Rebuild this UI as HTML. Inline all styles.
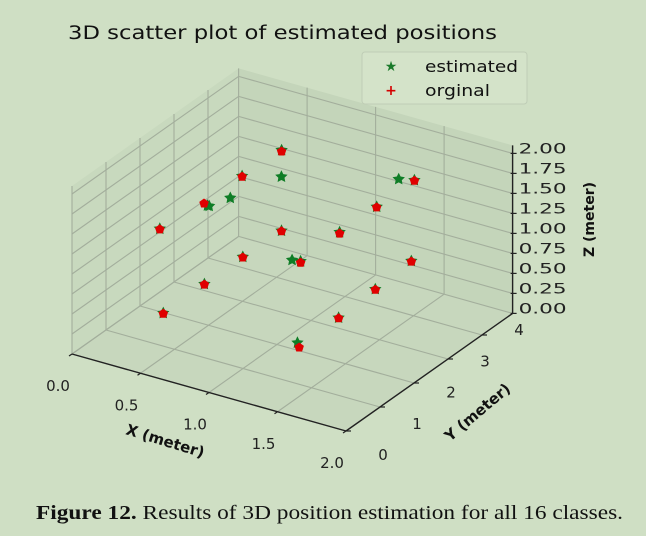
<!DOCTYPE html>
<html><head><meta charset="utf-8"><style>
body{margin:0;background:#cfdfc4;}
svg{display:block;font-family:"DejaVu Sans","Liberation Sans",sans-serif;}
</style></head><body>
<svg id="chart" width="646" height="536" viewBox="0 0 646 536">
<rect width="646" height="536" fill="#cfdfc4"/>
<text x="68" y="39" font-size="18.5" fill="#111" textLength="429" lengthAdjust="spacingAndGlyphs">3D scatter plot of estimated positions</text>
<g id="panes"></g><g id="grid"></g><g id="axes"></g><g id="marks"></g>
<g>
<rect x="362" y="52" width="165" height="52" rx="3" fill="#d4e3c9" stroke="#bfcdb6"/>
<text x="391" y="71" font-size="14" fill="#1a7a2a" text-anchor="middle">★</text>
<text x="425" y="72" font-size="16" fill="#111" textLength="93" lengthAdjust="spacingAndGlyphs">estimated</text>
<text x="391" y="95" font-size="14" fill="#d40000" text-anchor="middle" font-weight="bold">+</text>
<text x="425" y="96" font-size="16" fill="#111" textLength="65" lengthAdjust="spacingAndGlyphs">orginal</text>
</g>
<text x="0" y="0" font-size="15" font-weight="bold" fill="#111" transform="translate(125,434) rotate(17)">X (meter)</text>
<text x="0" y="0" font-size="15" font-weight="bold" fill="#111" transform="translate(450,442) rotate(-40)">Y (meter)</text>
<text x="0" y="0" font-size="14" font-weight="bold" fill="#111" transform="translate(594,257) rotate(-90)">Z (meter)</text>
<text x="36" y="519" font-family="Liberation Serif,serif" font-size="20" fill="#111" textLength="587" lengthAdjust="spacingAndGlyphs"><tspan font-weight="bold">Figure 12.</tspan> Results of 3D position estimation for all 16 classes.</text>
</svg>
<script>
const xTicks=[0,0.5,1.0,1.5,2.0];
const yTicks=[0,1,2,3,4];
const zTicks=[0,0.25,0.5,0.75,1.0,1.25,1.5,1.75,2.0];
const origX=[0.48,0.46,1.39,0.46,1.39,0.42,1.07,1.39,0.47,0.81,1.38,0.47,1.40,0.47,1.42,1.43];
const origY=[4.23,3.15,4.47,2.03,3.36,0.89,1.85,2.27,3.13,3.46,4.42,2.00,3.28,0.79,2.12,0.92];
const origZ=[1.5,1.5,1.5,1.5,1.5,1.5,1.5,1.5,0.5,0.5,0.5,0.5,0.5,0.5,0.5,0.5];
const estX=[0.48,0.46,1.39,0.48,1.39,0.42,1.07,1.39,0.47,0.81,1.38,0.47,1.40,0.47,1.42,1.39,0.67,1.30,0.56,0.75,0.48];
const estY=[4.23,3.15,4.47,2.05,3.36,0.89,1.85,2.27,3.13,3.46,4.42,2.00,3.28,0.79,2.12,1.03,3.46,4.37,2.40,3.45,2.10];
const estZ=[1.51,1.5,1.5,1.47,1.5,1.5,1.5,1.51,0.5,0.51,0.5,0.5,0.5,0.5,0.5,0.5,1.5,1.5,1.5,0.5,1.45];
const XMAX=2,YMAX=4.9,ZMAX=2.1;
const NS="http://www.w3.org/2000/svg";
function P(x,y,z){return [72+137*x+34*y, 354+38.5*x-24*y-80*z];}
function mk(tag,attrs,parent){const e=document.createElementNS(NS,tag);for(const k in attrs)e.setAttribute(k,attrs[k]);document.getElementById(parent).appendChild(e);return e;}
function poly(pts){return pts.map(p=>p.join(',')).join(' ');}
function line(a,b,parent,stroke,w){return mk('line',{x1:a[0],y1:a[1],x2:b[0],y2:b[1],stroke:stroke,'stroke-width':w},parent);}
let e;
e=mk('polygon',{points:poly([P(0,0,0),P(XMAX,0,0),P(XMAX,YMAX,0),P(0,YMAX,0)]),fill:'rgba(60,80,50,0.05)'},'panes');


e=mk('polygon',{points:poly([P(0,0,0),P(0,YMAX,0),P(0,YMAX,ZMAX),P(0,0,ZMAX)]),fill:'rgba(60,80,50,0.04)'},'panes');


e=mk('polygon',{points:poly([P(0,YMAX,0),P(XMAX,YMAX,0),P(XMAX,YMAX,ZMAX),P(0,YMAX,ZMAX)]),fill:'rgba(60,80,50,0.07)'},'panes');


const G='#a3ae9c';
xTicks.forEach(t=>{
 e=line(P(t,0,0),P(t,YMAX,0),'grid',G,1.1);
 e=line(P(t,YMAX,0),P(t,YMAX,ZMAX),'grid',G,1.1);
});
yTicks.forEach(t=>{
 e=line(P(0,t,0),P(XMAX,t,0),'grid',G,1.1);
 e=line(P(0,t,0),P(0,t,ZMAX),'grid',G,1.1);
});
zTicks.forEach(t=>{
 e=line(P(0,0,t),P(0,YMAX,t),'grid',G,1.1);
 e=line(P(0,YMAX,t),P(XMAX,YMAX,t),'grid',G,1.1);
});
e=line(P(0,0,0),P(XMAX,0,0),'axes','#222',1.4);
e=line(P(XMAX,0,0),P(XMAX,YMAX,0),'axes','#222',1.4);
e=line(P(XMAX,YMAX,0),P(XMAX,YMAX,ZMAX),'axes','#222',1.4);
xTicks.forEach(t=>{const p=P(t,0,0);
 e=line(p,[p[0]-3,p[1]+2],'axes','#222',1.2);
 e=mk('text',{x:p[0]-14,y:p[1]+37,'font-size':15,fill:'#222','text-anchor':'middle'},'axes');e.textContent=t.toFixed(1);
 });
yTicks.forEach(t=>{const p=P(XMAX,t,0);
 e=line(p,[p[0]+5,p[1]],'axes','#222',1.2);
 e=mk('text',{x:p[0]+37,y:p[1]+29-7.25*t,'font-size':15,fill:'#222','text-anchor':'middle'},'axes');e.textContent=String(t);
 });
zTicks.forEach(t=>{const p=P(XMAX,YMAX,t);
 e=line([p[0]-2,p[1]],[p[0]+4,p[1]],'axes','#222',1.2);
 e=mk('text',{x:p[0]+6,y:p[1],'font-size':14,fill:'#222',textLength:48,lengthAdjust:'spacingAndGlyphs'},'axes');e.textContent=t.toFixed(2);
 });
function star(cx,cy,r){const pts=[];for(let i=0;i<10;i++){const a=-Math.PI/2+i*Math.PI/5,rr=i%2?r*0.5:r;pts.push([(cx+rr*Math.cos(a)).toFixed(1),(cy+rr*Math.sin(a)).toFixed(1)]);}return poly(pts);}
function pent(cx,cy,r){const pts=[];for(let i=0;i<5;i++){const a=-Math.PI/2+i*2*Math.PI/5;pts.push([(cx+r*Math.cos(a)).toFixed(1),(cy+r*Math.sin(a)).toFixed(1)]);}return poly(pts);}
estX.forEach((x,i)=>{const p=P(x,estY[i],estZ[i]);
 e=mk('polygon',{points:star(p[0],p[1],6.5),fill:'#0f7d26'},'marks');
 
 });
origX.forEach((x,i)=>{const p=P(x,origY[i],origZ[i]);
 e=mk('polygon',{points:pent(p[0],p[1]+0.5,5),fill:'#e00000'},'marks');
 
 });
</script>
</body></html>
